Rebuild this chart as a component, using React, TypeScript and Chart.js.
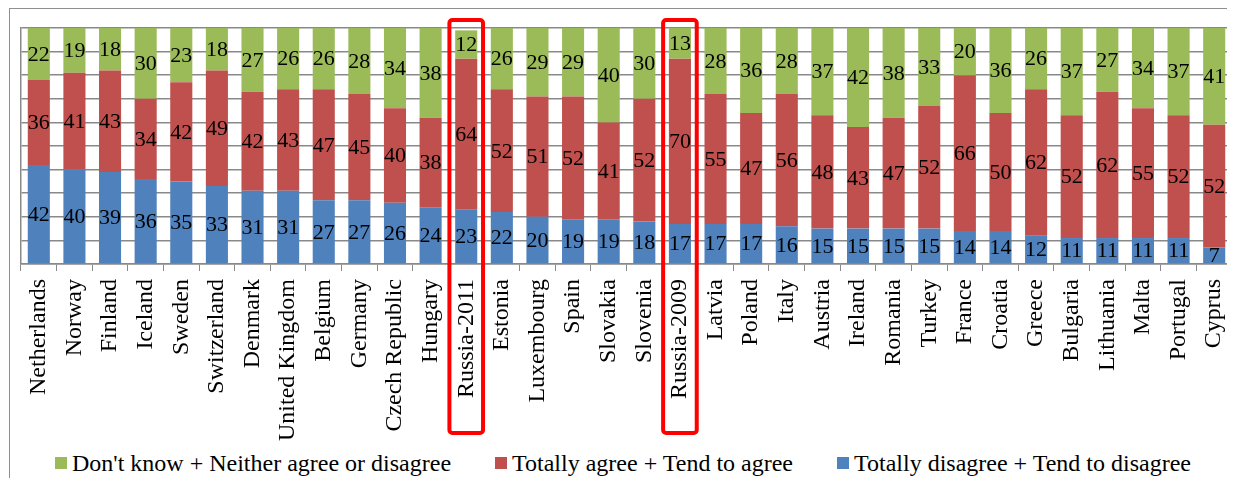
import React, { useEffect, useRef } from "react";
import { Chart, registerables } from "chart.js";

Chart.register(...registerables);

const categories = [
  "Netherlands", "Norway", "Finland", "Iceland", "Sweden", "Switzerland", "Denmark",
  "United Kingdom", "Belgium", "Germany", "Czech Republic", "Hungary", "Russia-2011",
  "Estonia", "Luxembourg", "Spain", "Slovakia", "Slovenia", "Russia-2009", "Latvia",
  "Poland", "Italy", "Austria", "Ireland", "Romania", "Turkey", "France", "Croatia",
  "Greece", "Bulgaria", "Lithuania", "Malta", "Portugal", "Cyprus",
];

const disagree = [42, 40, 39, 36, 35, 33, 31, 31, 27, 27, 26, 24, 23, 22, 20, 19, 19, 18, 17, 17, 17, 16, 15, 15, 15, 15, 14, 14, 12, 11, 11, 11, 11, 7];
const agree = [36, 41, 43, 34, 42, 49, 42, 43, 47, 45, 40, 38, 64, 52, 51, 52, 41, 52, 70, 55, 47, 56, 48, 43, 47, 52, 66, 50, 62, 52, 62, 55, 52, 52];
const dontKnow = [22, 19, 18, 30, 23, 18, 27, 26, 26, 28, 34, 38, 12, 26, 29, 29, 40, 30, 13, 28, 36, 28, 37, 42, 38, 33, 20, 36, 26, 37, 27, 34, 37, 41];

const seriesNames = [
  "Totally disagree + Tend to disagree",
  "Totally agree + Tend to agree",
  "Don't know + Neither agree or disagree",
];
const seriesColors = ["#4F81BD", "#C0504D", "#9BBB59"];
const highlighted = ["Russia-2011", "Russia-2009"];

const yMin = 0;
const yMax = 100;
const yStep = 10;

const FONT = '"Liberation Serif", "Times New Roman", serif';
const GRID = "#898989";

const valueLabels = {
  id: "valueLabels",
  afterDatasetsDraw(chart: any) {
    const ctx = chart.ctx;
    ctx.save();
    ctx.font = `22px ${FONT}`;
    ctx.fillStyle = "#000";
    ctx.textAlign = "center";
    ctx.textBaseline = "middle";
    chart.data.datasets.forEach((ds: any, di: number) => {
      const meta = chart.getDatasetMeta(di);
      meta.data.forEach((bar: any, i: number) => {
        const v = ds.data[i];
        const y = (bar.y + bar.base) / 2;
        ctx.fillText(String(v), bar.x, y + 1);
      });
    });
    ctx.restore();
  },
};

const highlightBoxes = {
  id: "highlightBoxes",
  afterDraw(chart: any) {
    const ctx = chart.ctx;
    const xs = chart.scales.x;
    const area = chart.chartArea;
    const half = (xs.right - xs.left) / categories.length / 2;
    ctx.save();
    ctx.strokeStyle = "#FF0000";
    ctx.lineWidth = 4;
    highlighted.forEach((name) => {
      const idx = categories.indexOf(name);
      const cx = xs.getPixelForValue(idx);
      const left = cx - half + 1;
      const w = (half - 1) * 2;
      const top = area.top - 8;
      const bottom = area.bottom + 169;
      ctx.beginPath();
      (ctx as any).roundRect(left, top, w, bottom - top, 3);
      ctx.stroke();
    });
    ctx.restore();
  },
};

export default function App() {
  const ref = useRef<HTMLCanvasElement | null>(null);

  useEffect(() => {
    if (!ref.current) return;
    const values = [disagree, agree, dontKnow];
    const chart = new Chart(ref.current, {
      type: "bar",
      data: {
        labels: categories,
        datasets: values.map((d, i) => ({
          label: seriesNames[i],
          data: d,
          backgroundColor: seriesColors[i],
          borderWidth: 0,
          categoryPercentage: 1,
          barPercentage: 0.62,
        })),
      },
      options: {
        animation: false,
        responsive: true,
        maintainAspectRatio: false,
        layout: { padding: { top: 19, left: 0, right: 0, bottom: 0 } },
        plugins: {
          legend: { display: false },
          tooltip: { enabled: false },
        },
        scales: {
          x: {
            stacked: true,
            grid: {
              display: true,
              drawOnChartArea: false,
              drawTicks: true,
              tickLength: 7,
              color: GRID,
              offset: true,
            },
            border: { display: true, color: GRID, width: 1.5 },
            ticks: {
              autoSkip: false,
              minRotation: 90,
              maxRotation: 90,
              padding: 8,
              color: "#000",
              font: { family: FONT, size: 24 },
            },
            afterFit: (scale: any) => {
              scale.height = 185;
              scale.paddingLeft = 0;
              scale.paddingRight = 0;
            },
          },
          y: {
            stacked: true,
            min: yMin,
            max: yMax,
            ticks: { display: false, stepSize: yStep },
            grid: { color: GRID, lineWidth: 1.5, drawTicks: false },
            border: { display: true, color: GRID, width: 1.5 },
            afterFit: (scale: any) => {
              scale.width = 11;
              scale.paddingTop = 0;
              scale.paddingBottom = 0;
            },
          },
        },
      },
      plugins: [valueLabels, highlightBoxes],
    });
    return () => chart.destroy();
  }, []);

  const legendOrder = [2, 1, 0];

  return (
    <div style={{ height: 470, overflow: "hidden" }}>
      <div
        style={{
          position: "relative",
          marginLeft: 1,
          width: 1222,
          height: 490,
          border: "1px solid #8f8f8f",
          fontFamily: FONT,
          background: "#fff",
        }}
      >
        <div style={{ position: "absolute", left: 0, top: 0, width: 1222, height: 440 }}>
          <canvas ref={ref} />
        </div>
        <div
          style={{
            position: "absolute",
            left: 45,
            top: 440,
            height: 28,
            display: "flex",
            alignItems: "center",
            gap: 44,
            whiteSpace: "nowrap",
          }}
        >
          {legendOrder.map((i) => (
            <div key={i} style={{ display: "flex", alignItems: "center" }}>
              <span
                style={{
                  display: "inline-block",
                  width: 12,
                  height: 12,
                  background: seriesColors[i],
                  marginRight: 5,
                }}
              />
              <span style={{ fontSize: 24, lineHeight: "28px", color: "#000" }}>{seriesNames[i]}</span>
            </div>
          ))}
        </div>
      </div>
    </div>
  );
}
